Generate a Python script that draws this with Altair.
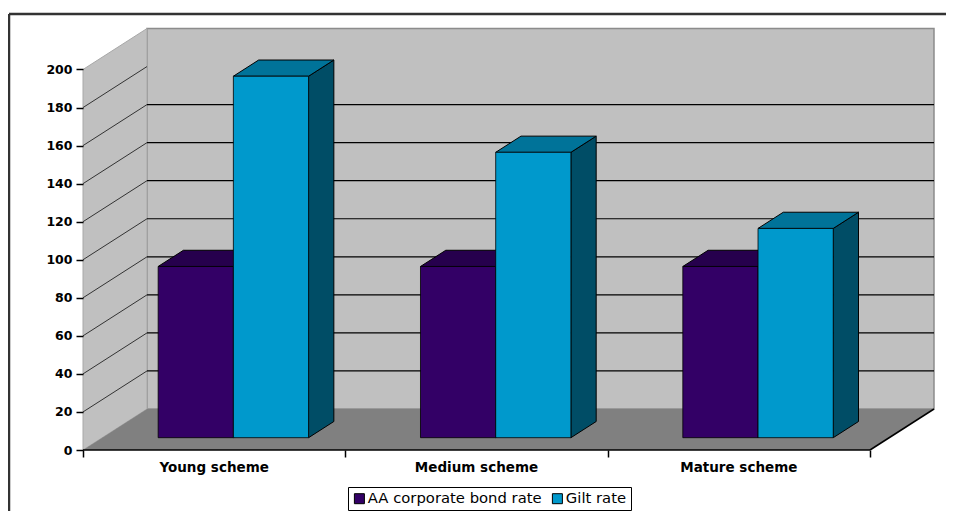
import altair as alt
import pandas as pd

# ---- data
categories = ["Young scheme", "Medium scheme", "Mature scheme"]
series = ["AA corporate bond rate", "Gilt rate"]
aa_rate = [90, 90, 90]
gilt_rate = [190, 150, 110]
value_ticks = [0, 20, 40, 60, 80, 100, 120, 140, 160, 180, 200]
wall_lines = [20, 40, 60, 80, 100, 120, 140, 160, 180]
back_lines = [20, 40, 60, 80, 100, 120, 140, 160]

front_colors = ["#330066", "#0099cc"]
top_colors = ["#26004d", "#007399"]
side_colors = ["#1a0033", "#004d66"]

# ---- 3-D oblique projection: depth d adds DX category units and DY value units
W, H = 938, 503
UX, UY = 262.33, 1.9025     # px per category, px per value
X0, Y0 = 75, 442            # px position of the origin
DX, DY = 64 / UX, 41 / UY
D0, D1 = 0.30, 0.695        # bar depth span
BAR = 0.2867                # bar width in category units

xscale = alt.Scale(domain=[-X0 / UX, (W - X0) / UX], range=[0, W], nice=False, zero=False)
yscale = alt.Scale(domain=[-(H - Y0) / UY, Y0 / UY], range=[H, 0], nice=False, zero=False)
x_axis_def = alt.Axis(
    values=[0, 1, 2, 3], offset=-(H - Y0), domain=False, grid=False, tickSize=7, tickColor="black",
    tickWidth=1.5, labels=False, title=None, zindex=1)
y_axis_def = alt.Axis(
    values=value_ticks, offset=-X0, domain=False, grid=False, tickSize=7, tickColor="black",
    tickWidth=1.5, labelFont="DejaVu Sans", labelFontWeight="bold", labelFontSize=12.5,
    labelColor="black", labelPadding=4, title=None, zindex=1)
X = alt.X("x:Q", scale=xscale, axis=x_axis_def)
X2 = alt.X2("x2:Q")
Y = alt.Y("y:Q", scale=yscale, axis=y_axis_def, stack=None)
Y2 = alt.Y2("y2:Q")

# walls and floor
wall_left = pd.DataFrame({"x": [0, DX], "y": [0, DY], "y2": [200, 200 + DY]})
wall_back = pd.DataFrame({"x": [DX], "x2": [3 + DX], "y": [DY], "y2": [200 + DY]})
floor = pd.DataFrame({"y": [0, DY], "x": [0, DX], "x2": [3, 3 + DX]})

left_rows, back_rows = [], []
for v in wall_lines:
    left_rows += [{"x": 0, "y": v, "k": v}, {"x": DX, "y": v + DY, "k": v}]
for v in back_lines:
    back_rows.append({"x": DX, "x2": 3 + DX, "y": v + DY})

edge = pd.DataFrame({"x": [3, 3 + DX], "y": [0, DY]})
baseline = pd.DataFrame({"x": [0], "x2": [3], "y": [0]})

# bars
front, tops, sides = [], [], []
for s, vals in enumerate([aa_rate, gilt_rate]):
    for c, v in enumerate(vals):
        xl = c + 0.5 - BAR + s * BAR
        xr = xl + BAR
        key = f"{s}-{c}"
        fx0, bx0 = D0 * DX, D1 * DX
        fy0, by0 = D0 * DY, D1 * DY
        front.append({"x": xl + fx0, "x2": xr + fx0, "y": fy0, "y2": v + fy0, "series": series[s]})
        tops += [
            {"y": v + fy0, "x": xl + fx0, "x2": xr + fx0, "k": key, "c": top_colors[s]},
            {"y": v + by0, "x": xl + bx0, "x2": xr + bx0, "k": key, "c": top_colors[s]},
        ]
        sides += [
            {"x": xr + fx0, "y": fy0, "y2": v + fy0, "k": key, "c": side_colors[s]},
            {"x": xr + bx0, "y": by0, "y2": v + by0, "k": key, "c": side_colors[s]},
        ]
front, tops, sides = map(pd.DataFrame, (front, tops, sides))
labels = pd.DataFrame({"x": [i + 0.5 for i in range(3)], "y": [-9.6] * 3, "t": categories})
frame_base = pd.DataFrame({"x": [0], "y": [0]})

GRAY = "#8c8c8c"
layers = [
    alt.Chart(wall_back).mark_rect(fill="#c0c0c0", stroke=GRAY, strokeWidth=1.5).encode(x=X, x2=X2, y=Y, y2=Y2),
    alt.Chart(wall_left).mark_area(orient="vertical", fill="#c0c0c0", stroke="#a8a8a8", strokeWidth=1).encode(x=X, y=Y, y2=Y2),
    alt.Chart(floor).mark_area(orient="horizontal", fill="#808080").encode(y=Y, x=X, x2=X2),
    alt.Chart(pd.DataFrame(back_rows)).mark_rule(color="black", strokeWidth=1.2).encode(x=X, x2=X2, y=Y),
    alt.Chart(pd.DataFrame(left_rows)).mark_line(color="#333333", strokeWidth=1).encode(x=X, y=Y, detail="k:N"),
    alt.Chart(edge).mark_line(color="black", strokeWidth=1.5).encode(x=X, y=Y),
    alt.Chart(baseline).mark_rule(color="black", strokeWidth=1.5).encode(x=X, x2=X2, y=Y),
    alt.Chart(sides).mark_area(orient="vertical", stroke="black", strokeWidth=1).encode(
        x=X, y=Y, y2=Y2, detail="k:N", color=alt.Color("c:N", scale=None)),
    alt.Chart(tops).mark_area(orient="horizontal", stroke="black", strokeWidth=1).encode(
        y=Y, x=X, x2=X2, detail="k:N", color=alt.Color("c:N", scale=None)),
    alt.Chart(front).mark_rect(stroke="black", strokeWidth=0.8).encode(
        x=X, x2=X2, y=Y, y2=Y2,
        color=alt.Color("series:N", scale=alt.Scale(domain=series, range=front_colors), legend=alt.Legend(
            title=None, orient="none", legendX=340, legendY=479, direction="horizontal", columns=2,
            symbolType="square", symbolSize=100, symbolStrokeColor="black", symbolStrokeWidth=1,
            labelFont="DejaVu Sans", labelFontSize=14.8, labelColor="black", labelOffset=1, labelLimit=300,
            columnPadding=8, strokeColor="black", fillColor="white", padding=4))),
    alt.Chart(labels).mark_text(font="DejaVu Sans", fontWeight="bold", fontSize=13.5, color="black").encode(
        x=X, y=Y, text="t:N"),
    alt.Chart(frame_base).mark_rule(color="#333333", strokeWidth=2.5).encode(
        x=alt.value(1), x2=alt.value(W), y=alt.value(6)),
    alt.Chart(frame_base).mark_rule(color="#333333", strokeWidth=2.5).encode(
        x=alt.value(1), y=alt.value(6), y2=alt.value(H)),
]

chart = alt.layer(*layers).resolve_scale(color="independent").properties(
    width=W, height=H, padding=0, autosize=alt.AutoSizeParams(type="none")
).configure_view(stroke=None)

chart.save("out.html", embed_options={"renderer": "svg", "actions": False})
